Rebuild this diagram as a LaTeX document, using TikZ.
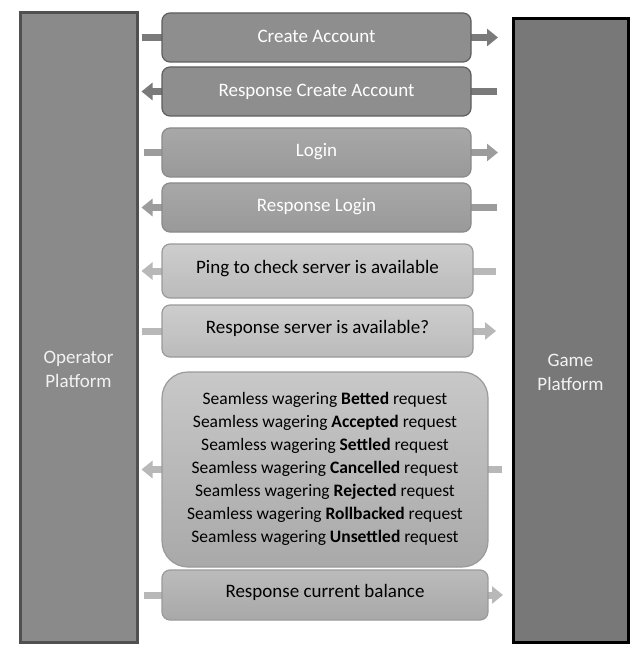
\documentclass[tikz,border=0pt]{standalone}
\usepackage{fontspec}
\setmainfont{Carlito}
\usetikzlibrary{arrows.meta,backgrounds}
\definecolor{opfill}{HTML}{8A8A8A}
\definecolor{opdraw}{HTML}{505050}
\definecolor{gpfill}{HTML}{787878}
\definecolor{dkfill}{HTML}{8E8E8E}
\definecolor{dkdraw}{HTML}{5E5E5E}
\definecolor{mdtop}{HTML}{A8A8A8}
\definecolor{mdbot}{HTML}{999999}
\definecolor{mddraw}{HTML}{8A8A8A}
\definecolor{lttop}{HTML}{CDCDCD}
\definecolor{ltbot}{HTML}{BBBBBB}
\definecolor{ltdraw}{HTML}{9A9A9A}
\definecolor{swtop}{HTML}{C8C8C8}
\definecolor{swbot}{HTML}{A9A9A9}
\definecolor{dkarrow}{HTML}{7A7A7A}
\definecolor{mdarrow}{HTML}{9C9C9C}
\definecolor{ltarrow}{HTML}{B8B8B8}
\tikzset{
  panel/.style={draw, line width=3pt, minimum width=#1, inner sep=0pt},
  msgbox/.style={draw, line width=1.2pt, rounded corners=8pt, minimum width=309pt,
     minimum height=49pt, inner sep=0pt, text depth=5pt, font=\fontsize{19}{23}\selectfont},
  dkbox/.style={msgbox, fill=dkfill, draw=dkdraw, text=white, text depth=3pt},
  mdbox/.style={msgbox, top color=mdtop, bottom color=mdbot, draw=mddraw, text=white},
  ltbox/.style={msgbox, top color=lttop, bottom color=ltbot, draw=ltdraw, text=black, text depth=8pt},
  blockarrow/.style={line width=7pt, draw=#1,
     -{Triangle[width=17pt,length=11pt,fill=#1]}},
  paneltext/.style={text=#1, align=center, font=\fontsize{19}{24}\selectfont}
}
\begin{document}
\begin{tikzpicture}[x=1pt,y=-1pt]
\useasboundingbox (0,0) rectangle (634,652);
% panels
\node[panel=117pt, minimum height=629pt, fill=opfill, draw=opdraw] (op) at (78.5,327.5) {};
\node[panel=115pt, minimum height=623pt, fill=gpfill, draw=black] (gp) at (570.5,330.5) {};
\node[paneltext=white!90!gray] (optext) at (78.5,369) {Operator\\Platform};
\node[paneltext=white!90!gray] (gptext) at (570.5,372) {Game\\Platform};
% message boxes
\node[dkbox] (ca) at (316.5,37.5) {Create Account};
\node[dkbox] (rca) at (316.5,91.5) {Response Create Account};
\node[mdbox] (li) at (316.5,152.5) {Login};
\node[mdbox] (rli) at (316.5,207.5) {Response Login};
\node[ltbox, minimum width=311pt, minimum height=54pt] (ping) at (317.5,271) {Ping to check server is available};
\node[ltbox, minimum width=311pt, minimum height=52pt] (rsa) at (317.5,331) {Response server is available?};
\node[msgbox, top color=swtop, bottom color=swbot, draw=ltdraw, rounded corners=26pt,
      minimum width=326pt, minimum height=195pt, align=center, text depth=,
      font=\fontsize{17.5}{23}\selectfont] (sw) at (325,469.5) {%
Seamless wagering \textbf{Betted} request\\
Seamless wagering \textbf{Accepted} request\\
Seamless wagering \textbf{Settled} request\\
Seamless wagering \textbf{Cancelled} request\\
Seamless wagering \textbf{Rejected} request\\
Seamless wagering \textbf{Rollbacked} request\\
Seamless wagering \textbf{Unsettled} request\\[-18pt]\mbox{}};
\node[ltbox, top color=ltbot, bottom color=ltbot!90!black, minimum width=326pt, minimum height=50pt] (rcb) at (325,595) {Response current balance};
% connector end points
\coordinate (caL) at ([xshift=3pt]op.east |- ca.center);
\coordinate (caR) at (498,0 |- ca.center);
\coordinate (rcaL) at ([xshift=3pt]op.east |- rca.center);
\coordinate (rcaR) at (497,0 |- rca.center);
\coordinate (liL) at ([xshift=5pt]op.east |- li.center);
\coordinate (liR) at (498,0 |- li.center);
\coordinate (rliL) at ([xshift=3pt]op.east |- rli.center);
\coordinate (rliR) at (497,0 |- rli.center);
\coordinate (pingL) at ([xshift=3pt]op.east |- ping.center);
\coordinate (pingR) at (496,0 |- ping.center);
\coordinate (rsaL) at ([xshift=3pt]op.east |- rsa.center);
\coordinate (rsaR) at (496,0 |- rsa.center);
\coordinate (swL) at ([xshift=3pt]op.east |- sw.center);
\coordinate (swR) at (502,0 |- sw.center);
\coordinate (rcbL) at ([xshift=5pt]op.east |- rcb.center);
\coordinate (rcbR) at (503,0 |- rcb.center);
\begin{scope}[on background layer]
\fill[white] (0,0) rectangle (634,652);
\draw[blockarrow=dkarrow] (caL) -- (caR);
\draw[blockarrow=dkarrow] (rcaR) -- (rcaL);
\draw[blockarrow=mdarrow] (liL) -- (liR);
\draw[blockarrow=mdarrow] (rliR) -- (rliL);
\draw[blockarrow=ltarrow] (pingR) -- (pingL);
\draw[blockarrow=ltarrow] (rsaL) -- (rsaR);
\draw[blockarrow=ltarrow] (swR) -- (swL);
\draw[blockarrow=ltarrow] (rcbL) -- (rcbR);
\end{scope}
\end{tikzpicture}
\end{document}
